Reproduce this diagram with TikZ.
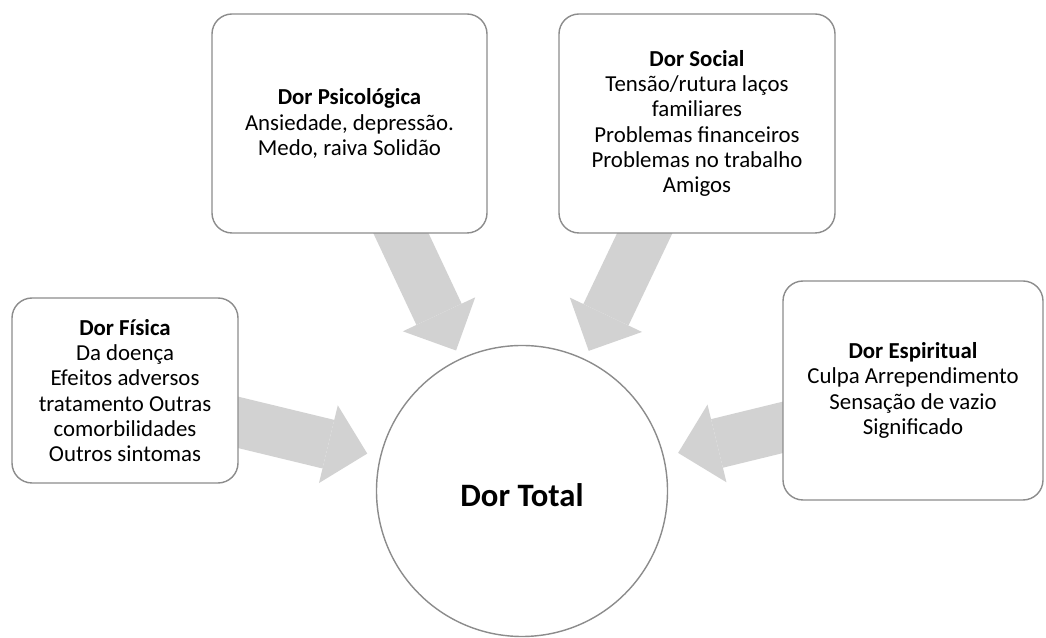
\documentclass[tikz,border=0pt]{standalone}
\usepackage{fontspec}
\setmainfont{Carlito}
\usetikzlibrary{arrows.meta,backgrounds}

\definecolor{framegray}{RGB}{140,140,140}
\definecolor{arrowgray}{RGB}{210,210,210}

\begin{document}
\begin{tikzpicture}[
  box/.style={draw=framegray, line width=0.8pt, rounded corners=0.4cm, align=center, fill=white, inner sep=0pt, font=\fontsize{13}{14.4}\selectfont},
  hub/.style={circle, draw=framegray, line width=0.8pt, fill=white, inner sep=0pt, minimum size=5.82cm, text height=0.62cm, font=\bfseries\fontsize{18.6}{22}\selectfont},
  bigarrow/.style={draw=arrowgray, line width=1cm, shorten <=-0.6cm, -{Triangle[width=1.6cm 0, length=0.8cm 0, line width=0pt 0]}}
]
\useasboundingbox (0,0) rectangle (20.92,12.76);

\node[hub] (total) at (10.44,2.94) {Dor Total};

\node[box, minimum width=5.5cm, minimum height=4.38cm] (psic) at (6.99,10.29)
  {\textbf{Dor Psicológica}\\Ansiedade, depressão.\\Medo, raiva Solidão};
\node[box, minimum width=5.52cm, minimum height=4.38cm] (social) at (13.94,10.29)
  {\textbf{Dor Social}\\Tensão/rutura laços\\familiares\\Problemas financeiros\\Problemas no trabalho\\Amigos};
\node[box, minimum width=4.52cm, minimum height=3.7cm] (fisica) at (2.5,4.95)
  {\textbf{Dor Física}\\Da doença\\Efeitos adversos\\tratamento Outras\\comorbilidades\\Outros sintomas};
\node[box, minimum width=5.2cm, minimum height=4.38cm] (espiritual) at (18.26,4.95)
  {\textbf{Dor Espiritual}\\Culpa Arrependimento\\Sensação de vazio\\Significado};

% grey block arrows behind the boxes
\begin{scope}[on background layer]
  \draw[bigarrow, shorten >=0.18cm] (psic) -- (total);
  \draw[bigarrow, shorten >=0.18cm] (social) -- (total);
  \draw[bigarrow, shorten >=0.26cm] ([yshift=-0.64cm]fisica.east) -- (total);
  \draw[bigarrow, shorten >=0.29cm] ([yshift=-0.74cm]espiritual.west) -- (total);
\end{scope}

\end{tikzpicture}
\end{document}
